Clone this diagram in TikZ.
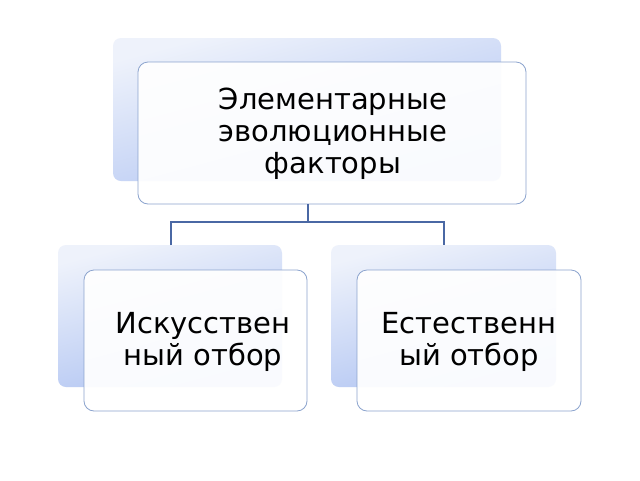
\documentclass[tikz,border=0pt]{standalone}
\usepackage{fontspec}
\setmainfont{DejaVu Sans}
\definecolor{bd}{HTML}{8CA4CE}
\definecolor{lb}{HTML}{AFC3F2}
\definecolor{tb}{HTML}{EEF2FB}
\definecolor{ln}{HTML}{4A68A4}
\begin{document}
\begin{tikzpicture}[x=1pt,y=-1pt,
  back/.style={rounded corners=8pt,top color=tb,bottom color=lb,shading angle=15},
  front/.style={rounded corners=10pt,draw=bd,line width=0.8pt,fill=white,fill opacity=0.93},
  txt/.style={align=center,font=\fontsize{29}{32}\selectfont,text=black},
  conn/.style={draw=ln,line width=1.5pt}]
\useasboundingbox (0,0) rectangle (640,480);
\fill[white] (0,0) rectangle (640,480);
\shade[back] (113,38) rectangle (501,181);
\shade[back] (58,245) rectangle (282,387);
\shade[back] (331,245) rectangle (556,387);
\draw[front] (138,62) rectangle (526,204);
\draw[front] (84,270) rectangle (307,411);
\draw[front] (357,270) rectangle (581,411);
\node[txt] (top) at (333,134) {Элементарные\\эволюционные\\факторы};
\node[txt] (l) at (203,342) {Искусствен\\ный отбор};
\node[txt] (r) at (469,342) {Естественн\\ый отбор};
\coordinate (a) at (308,204);
\coordinate (b) at (308,222);
\coordinate (c) at (171,222);
\coordinate (d) at (444,222);
\coordinate (e) at (171,245);
\coordinate (f) at (444,245);
\draw[conn] (a) -- (b);
\draw[conn] (e) -- (c) -- (d) -- (f);
\end{tikzpicture}
\end{document}
